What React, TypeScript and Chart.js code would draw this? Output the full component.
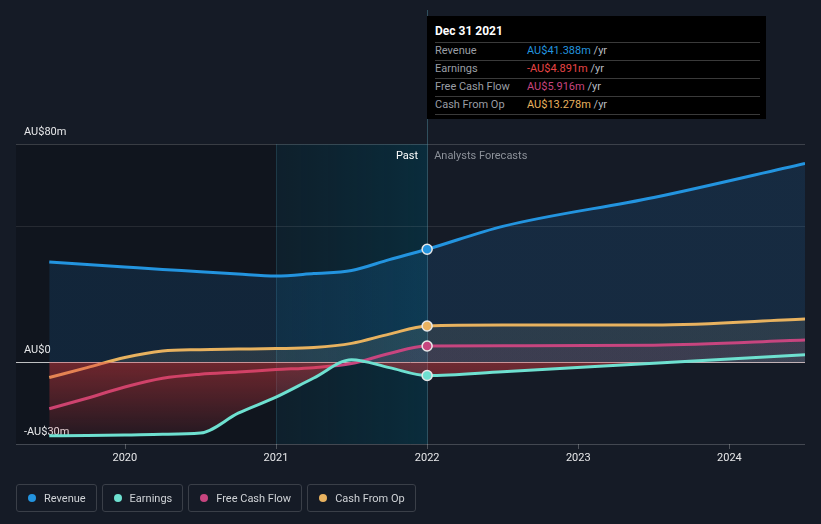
import React, { useEffect, useRef } from "react";
import { Chart, registerables } from "chart.js";

Chart.register(...registerables);

// ---- data (values in AU$ millions, x in decimal years) ----
const dates = [2019.5, 2019.75, 2020, 2020.25, 2020.5, 2020.75, 2021, 2021.25, 2021.5, 2021.75, 2022, 2022.5, 2023.5, 2024.5];
const revenue = [36.7, 35.8, 34.9, 34.0, 33.2, 32.3, 31.6, 32.5, 33.6, 37.6, 41.388, 49.8, 60.4, 72.9];
const earnings = [-27.0, -26.9, -26.7, -26.4, -26.0, -18.7, -12.8, -5.8, 0.9, -2.0, -4.891, -3.5, -0.4, 2.7];
const freeCashFlow = [-17.1, -13.2, -9.1, -5.9, -4.4, -3.6, -2.7, -2.0, -0.5, 3.2, 5.916, 6.0, 6.2, 8.1];
const cashFromOp = [-5.6, -2.0, 1.7, 4.1, 4.6, 4.8, 5.0, 5.4, 6.9, 10.3, 13.278, 13.6, 13.6, 15.8];

const seriesNames = ["Revenue", "Earnings", "Free Cash Flow", "Cash From Op"];
const seriesColors = ["#2394df", "#6ee0d0", "#c7457f", "#e8b25f"];
const tooltipValues = ["AU$41.388m", "-AU$4.891m", "AU$5.916m", "AU$13.278m"];
const tooltipColors = ["#2394df", "#e84545", "#c7457f", "#e8b25f"];
const tooltipTitle = "Dec 31 2021";

const yTicks = [-30, 0, 50, 80];
const yTickLabels = ["-AU$30m", "AU$0", "", "AU$80m"];
const xTicks = [2020, 2021, 2022, 2023, 2024];
const xMin = 2019.28;
const xMax = 2024.5;
const yMin = -30;
const yMax = 80;
const pastStart = 2021;
const nowX = 2022;

const BG = "#151b26";
const FONT = "Roboto, 'Noto Sans', sans-serif";

function toXY(values: number[]) {
  return values.map((v, i) => ({ x: dates[i], y: v }));
}

function fillGradient(chart: any, aboveColor: string, belowTop: string, belowBottom: string) {
  const area = chart.chartArea;
  if (!area) return aboveColor;
  const y = chart.scales.y;
  const ctx = chart.ctx;
  const g = ctx.createLinearGradient(0, area.top, 0, area.bottom);
  const z = (y.getPixelForValue(0) - area.top) / (area.bottom - area.top);
  g.addColorStop(0, aboveColor);
  g.addColorStop(Math.max(0, z - 0.0001), aboveColor);
  g.addColorStop(Math.min(1, z), belowTop);
  g.addColorStop(1, belowBottom);
  return g;
}

const decorPlugin = {
  id: "decor",
  beforeDatasetsDraw(chart: any) {
    const { ctx, chartArea: a, scales } = chart;
    const xs = scales.x;
    const ys = scales.y;
    const x0 = xs.getPixelForValue(pastStart);
    const x1 = xs.getPixelForValue(nowX);
    ctx.save();
    // darker past area
    ctx.fillStyle = "rgba(0,0,0,0.2)";
    ctx.fillRect(a.left, a.top, x0 - a.left, a.bottom - a.top);
    // teal last-year area
    const tg = ctx.createLinearGradient(x0, 0, x1, 0);
    tg.addColorStop(0, "rgba(0,45,60,0.3)");
    tg.addColorStop(1, "rgba(0,62,82,0.5)");
    ctx.fillStyle = tg;
    ctx.fillRect(x0, a.top, x1 - x0, a.bottom - a.top);
    // grid lines
    yTicks.forEach((t) => {
      const py = Math.round(ys.getPixelForValue(t)) + 0.5;
      if (t === 0) return;
      ctx.strokeStyle = t === yMin ? "rgba(255,255,255,0.2)" : t === 50 ? "rgba(255,255,255,0.09)" : "rgba(255,255,255,0.17)";
      ctx.lineWidth = 1;
      ctx.beginPath();
      ctx.moveTo(a.left, py);
      ctx.lineTo(a.right, py);
      ctx.stroke();
    });
    // x ticks
    ctx.strokeStyle = "rgba(255,255,255,0.25)";
    xTicks.forEach((t) => {
      const px = Math.round(xs.getPixelForValue(t)) + 0.5;
      ctx.beginPath();
      ctx.moveTo(px, a.bottom);
      ctx.lineTo(px, a.bottom + 5);
      ctx.stroke();
    });
    // vertical separators
    ctx.strokeStyle = "rgba(80,150,170,0.22)";
    ctx.beginPath();
    ctx.moveTo(Math.round(x0) + 0.5, a.top);
    ctx.lineTo(Math.round(x0) + 0.5, a.bottom);
    ctx.stroke();
    ctx.strokeStyle = "rgba(90,160,180,0.4)";
    ctx.beginPath();
    ctx.moveTo(Math.round(x1) + 0.5, 10);
    ctx.lineTo(Math.round(x1) + 0.5, a.bottom);
    ctx.stroke();
    // zero line
    const zy = Math.round(ys.getPixelForValue(0)) + 0.5;
    ctx.strokeStyle = "rgba(235,235,235,0.8)";
    ctx.beginPath();
    ctx.moveTo(a.left, zy);
    ctx.lineTo(a.right, zy);
    ctx.stroke();
    // y labels
    ctx.font = "11px " + FONT;
    ctx.fillStyle = "#e6e7e9";
    ctx.textAlign = "left";
    ctx.textBaseline = "middle";
    yTicks.forEach((t, i) => {
      const lbl = yTickLabels[i];
      if (!lbl) return;
      ctx.fillText(lbl, a.left + 8, ys.getPixelForValue(t) - 12);
    });
    // x labels
    ctx.textAlign = "center";
    xTicks.forEach((t) => {
      ctx.fillText(String(t), xs.getPixelForValue(t), a.bottom + 14);
    });
    // Past / forecast labels
    ctx.textAlign = "right";
    ctx.fillStyle = "#ffffff";
    ctx.fillText("Past", x1 - 9, a.top + 12);
    ctx.textAlign = "left";
    ctx.fillStyle = "#8c9199";
    ctx.fillText("Analysts Forecasts", x1 + 7, a.top + 12);
    ctx.restore();
  },
};

function makeDataset(label: string, values: number[], color: string, bg: any, order: number) {
  return {
    label,
    data: toXY(values),
    borderColor: color,
    borderWidth: 3,
    backgroundColor: bg,
    fill: "origin",
    cubicInterpolationMode: "monotone" as const,
    pointRadius: (c: any) => (dates[c.dataIndex] === nowX ? 5 : 0),
    pointHoverRadius: 0,
    pointBackgroundColor: color,
    pointBorderColor: "#e8e8e8",
    pointBorderWidth: 1.5,
    order,
  };
}

function ChartCanvas() {
  const ref = useRef<HTMLCanvasElement | null>(null);
  useEffect(() => {
    if (!ref.current) return;
    const chart = new Chart(ref.current, {
      type: "line",
      data: {
        datasets: [
          makeDataset(seriesNames[0], revenue, seriesColors[0], (c: any) =>
            fillGradient(c.chart, "rgba(33,150,243,0.13)", "rgba(33,150,243,0.05)", "rgba(33,150,243,0.05)"), 4),
          makeDataset(seriesNames[1], earnings, seriesColors[1], (c: any) =>
            fillGradient(c.chart, "rgba(110,224,208,0.05)", "rgba(225,60,65,0.45)", "rgba(225,60,65,0.06)"), 1),
          makeDataset(seriesNames[2], freeCashFlow, seriesColors[2], (c: any) =>
            fillGradient(c.chart, "rgba(199,69,127,0.10)", "rgba(0,0,0,0)", "rgba(0,0,0,0)"), 2),
          makeDataset(seriesNames[3], cashFromOp, seriesColors[3], (c: any) =>
            fillGradient(c.chart, "rgba(200,190,150,0.12)", "rgba(0,0,0,0)", "rgba(0,0,0,0)"), 3),
        ],
      },
      options: {
        responsive: false,
        animation: false,
        devicePixelRatio: 1,
        layout: { padding: { left: 16, right: 16, top: 144, bottom: 80 } },
        scales: {
          x: { type: "linear", min: xMin, max: xMax, display: false },
          y: { type: "linear", min: yMin, max: yMax, display: false },
        },
        plugins: {
          legend: { display: false },
          tooltip: { enabled: false },
        },
        events: [],
      },
      plugins: [decorPlugin],
    });
    return () => chart.destroy();
  }, []);
  return <canvas ref={ref} width={821} height={524} style={{ position: "absolute", left: 0, top: 0, width: 821, height: 524 }} />;
}

function Tooltip() {
  return (
    <div
      style={{
        position: "absolute",
        left: 427,
        top: 16,
        width: 339,
        height: 103,
        background: "#000",
        boxSizing: "border-box",
        padding: "0 6px 0 8px",
        fontFamily: FONT,
      }}
    >
      <div style={{ height: 26, lineHeight: "30px", color: "#fff", fontSize: 12, fontWeight: 700 }}>{tooltipTitle}</div>
      {seriesNames.map((n, i) => (
        <div
          key={n}
          style={{
            height: 17,
            lineHeight: "16px",
            borderTop: "1px solid #3a3a3a",
            borderBottom: i === seriesNames.length - 1 ? "1px solid #3a3a3a" : undefined,
            fontSize: 11,
            display: "flex",
          }}
        >
          <span style={{ width: 92, color: "#9a9ea5" }}>{n}</span>
          <span style={{ color: tooltipColors[i] }}>{tooltipValues[i]}</span>
          <span style={{ color: "#b8bcc2" }}>&nbsp;/yr</span>
        </div>
      ))}
    </div>
  );
}

function Legend() {
  return (
    <div style={{ position: "absolute", left: 16, top: 484, display: "flex", gap: 5, fontFamily: FONT }}>
      {seriesNames.map((n, i) => (
        <div
          key={n}
          style={{
            height: 26,
            border: "1px solid #3a3f48",
            borderRadius: 3,
            display: "flex",
            alignItems: "center",
            padding: "0 10px 0 11px",
            fontSize: 11,
            color: "#cfd2d6",
          }}
        >
          <span style={{ width: 8, height: 8, borderRadius: "50%", background: seriesColors[i], marginRight: 8, display: "inline-block" }} />
          {n}
        </div>
      ))}
    </div>
  );
}

export default function App() {
  return (
    <div style={{ position: "fixed", left: 0, top: 0, width: 821, height: 524, background: BG, overflow: "hidden" }}>
      <ChartCanvas />
      <Tooltip />
      <Legend />
    </div>
  );
}
